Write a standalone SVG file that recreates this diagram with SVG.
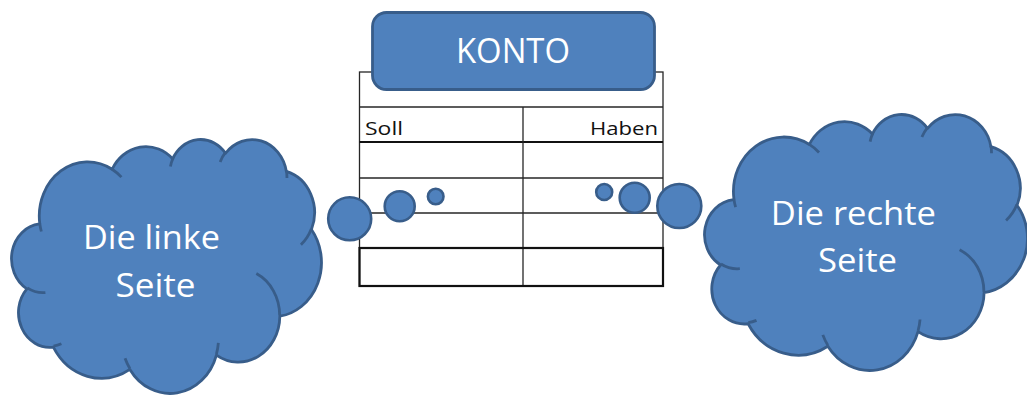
<svg xmlns="http://www.w3.org/2000/svg" xmlns:xlink="http://www.w3.org/1999/xlink" width="1027" height="396" viewBox="0 0 1027 396">
  <style>
    .shape { fill: #4f81bd; stroke: #385d8a; stroke-width: 2.8; }
    .crease { fill: none; stroke: #385d8a; stroke-width: 2.8; vector-effect: non-scaling-stroke; }
    .cloud { fill: #4f81bd; stroke: #385d8a; stroke-width: 2.8; vector-effect: non-scaling-stroke; stroke-linejoin: round; }
    .bubble { fill: #4f81bd; stroke: #385d8a; stroke-width: 2.6; }
    .grid { stroke: #262626; stroke-width: 1.3; fill: none; }
    .grid-bold { stroke: #111; stroke-width: 2.2; fill: none; }
    .white { fill: #ffffff; font-family: "Open Sans", "Liberation Sans", sans-serif; }
    .cell { fill: #111; font-family: "Open Sans", "Liberation Sans", sans-serif; font-size: 18px; }
  </style>
  <defs>
    <!-- cloud outline drawn in a 43200 x 43200 unit box -->
    <g id="cloud-form">
      <path class="cloud" d="M3900 14370 A6753 9190 0 0 1 14005 5202 A5333 7267 0 0 1 22456 3430 A4365 5945 0 0 1 29834 2479 A4857 6595 0 0 1 38319 5574 A5333 7273 0 0 1 41819 15458 A6775 9220 0 0 1 37405 30200 A5785 7867 0 0 1 28556 36810 A6752 9215 0 0 1 16481 39263 A7720 10543 0 0 1 5804 35469 A4360 5918 0 0 1 2111 25549 A4345 5945 0 0 1 3861 14506 Z"/>
      <path class="crease" d="M4694 26177 A4345 5945 0 0 1 2160 25380 M6928 34899 A4360 5918 0 0 1 5820 35280 M16478 39090 A6752 9215 0 0 1 15809 37348 M28827 34751 A6752 9215 0 0 1 28560 36659 M34129 22954 A5785 7867 0 0 1 37381 30090 M41798 15354 A5333 7273 0 0 1 40350 18030 M38324 5426 A4857 6595 0 0 1 38400 6690 M29078 3952 A4857 6595 0 0 1 29819 2342 M22141 4720 A4365 5945 0 0 1 22500 3330 M14000 5192 A6753 9190 0 0 1 15300 6541 M4127 15789 A6753 9190 0 0 1 3900 14372"/>
    </g>
  </defs>

  <rect width="1027" height="396" fill="#ffffff"/>

  <!-- account table -->
  <g id="konto-table">
    <rect class="grid" x="359.5" y="72" width="303.5" height="214"/>
    <line class="grid" x1="359.5" y1="107" x2="663" y2="107"/>
    <line class="grid-bold" x1="359.5" y1="142" x2="663" y2="142"/>
    <line class="grid" x1="359.5" y1="178" x2="663" y2="178"/>
    <line class="grid" x1="359.5" y1="213" x2="663" y2="213"/>
    <line class="grid" x1="523" y1="107" x2="523" y2="286"/>
    <rect class="grid-bold" x="359.5" y="248" width="303.5" height="38"/>
    <text class="cell" x="365" y="135" textLength="38" lengthAdjust="spacingAndGlyphs">Soll</text>
    <text class="cell" x="590" y="135" textLength="68" lengthAdjust="spacingAndGlyphs">Haben</text>
  </g>

  <!-- title box -->
  <g id="konto-title">
    <rect class="shape" x="372.5" y="12.5" width="282" height="77" rx="14" ry="14"/>
    <text class="white" x="513" y="63" font-size="35" text-anchor="middle" textLength="114" lengthAdjust="spacingAndGlyphs">KONTO</text>
  </g>

  <!-- thought bubbles leading to the table -->
  <g id="connectors">
    <circle class="bubble" cx="349.7" cy="218.8" r="21.5"/>
    <circle class="bubble" cx="399.7" cy="206.2" r="15"/>
    <circle class="bubble" cx="435.7" cy="196.5" r="7.8"/>
    <circle class="bubble" cx="604.2" cy="192" r="8"/>
    <circle class="bubble" cx="634.7" cy="197.8" r="15"/>
    <circle class="bubble" cx="679.3" cy="206" r="22"/>
  </g>

  <!-- left cloud -->
  <g id="cloud-left">
    <use xlink:href="#cloud-form" transform="translate(11.77 138.7) scale(0.007166 0.005877)"/>
    <text class="white" font-size="32" text-anchor="middle">
      <tspan x="155.7" y="249" textLength="137" lengthAdjust="spacingAndGlyphs">Die linke</tspan>
      <tspan x="155.5" y="296.5" textLength="80" lengthAdjust="spacingAndGlyphs">Seite</tspan>
    </text>
  </g>

  <!-- right cloud -->
  <g id="cloud-right">
    <use xlink:href="#cloud-form" transform="translate(704.78 113.68) scale(0.007467 0.005923)"/>
    <text class="white" font-size="32" text-anchor="middle">
      <tspan x="857.5" y="225" textLength="165" lengthAdjust="spacingAndGlyphs">Die rechte</tspan>
      <tspan x="857.5" y="272" textLength="79" lengthAdjust="spacingAndGlyphs">Seite</tspan>
    </text>
  </g>
</svg>
